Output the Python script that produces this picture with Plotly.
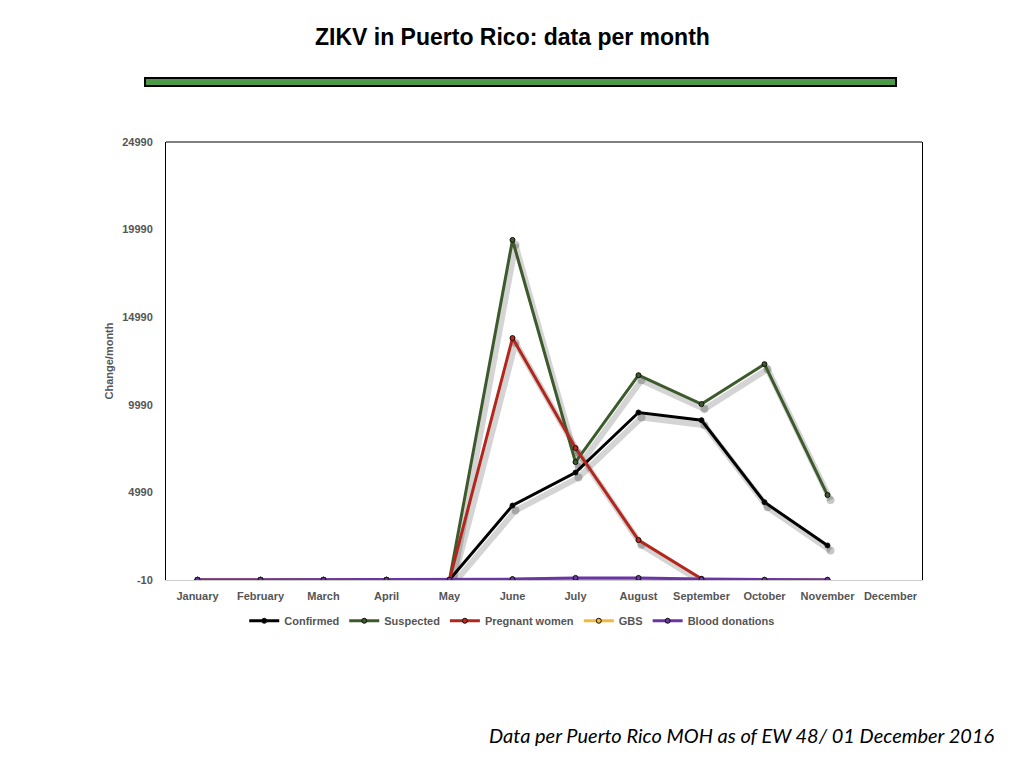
import plotly.graph_objects as go

# Monthly ZIKV figures for Puerto Rico.
months = ['January', 'February', 'March', 'April', 'May', 'June', 'July',
          'August', 'September', 'October', 'November', 'December']
confirmed = [0, 0, 0, 0, 0, 4240, 6120, 9550, 9110, 4430, 1960, None]
suspected = [0, 0, 0, 0, 0, 19400, 6720, 11680, 10030, 12310, 4840, None]
pregnant = [0, 0, 0, 0, 0, 13800, 7520, 2270, 60, None, None, None]
gbs = [0, 0, 0, 0, 0, 15, 25, 25, 10, 0, 0, None]
blood = [0, 0, 0, 0, 0, 40, 110, 110, 40, 0, 0, None]

y_ticks = [-10, 4990, 9990, 14990, 19990, 24990]

series = [
    ('Confirmed', confirmed, '#000000', '#000000'),
    ('Suspected', suspected, '#3d5a2c', '#3d5a2c'),
    ('Pregnant women', pregnant, '#b3261b', '#c0281c'),
    ('GBS', gbs, '#f4b83a', '#f4b83a'),
    ('Blood donations', blood, '#6b35a3', '#6b35a3'),
]

# pixel sizes of the plot area, used to offset the drop shadow
plot_w, plot_h = 756, 438
y_lo, y_hi = -10, 24990
units_per_px = (y_hi - y_lo) / plot_h
shadow_dx, shadow_dy = 3, 5
x_shift = shadow_dx * 12 / plot_w
y_shift = shadow_dy * units_per_px

fig = go.Figure()

# soft shadows underneath (main axes have a shifted range)
for name, vals, col, mcol in series:
    fig.add_trace(go.Scatter(
        x=months, y=vals, mode='lines+markers', xaxis='x', yaxis='y',
        line=dict(color='rgba(0,0,0,0.17)', width=6),
        marker=dict(size=8, color='rgba(0,0,0,0.22)'),
        showlegend=False, hoverinfo='skip', connectgaps=False,
    ))

# real lines on the overlay axes
for name, vals, col, mcol in series:
    fig.add_trace(go.Scatter(
        x=months, y=vals, name=name, mode='lines+markers',
        xaxis='x2', yaxis='y2',
        line=dict(color=col, width=3),
        marker=dict(size=5, color=mcol, line=dict(color='#111111', width=1)),
        connectgaps=False,
    ))

tick_font = dict(family='Liberation Sans', size=11, color='#555555',
                 weight='bold')

fig.update_layout(
    width=1024, height=768,
    paper_bgcolor='white', plot_bgcolor='white',
    # the page body adds 8px, so margins are pulled in by that much
    margin=dict(l=158, r=110, t=134, b=196),
    showlegend=True,
    legend=dict(orientation='h', x=0.458, xanchor='center', y=-0.06,
                yanchor='top', font=tick_font,
                itemwidth=30, tracegroupgap=0),
    xaxis=dict(range=[-0.5 - x_shift, 11.5 - x_shift], showticklabels=False,
               showgrid=False, zeroline=False, showline=False, ticks=''),
    yaxis=dict(range=[y_lo + y_shift, y_hi + y_shift], showticklabels=False,
               showgrid=False, zeroline=False, showline=False, ticks=''),
    xaxis2=dict(overlaying='x', side='bottom', range=[-0.5, 11.5],
                type='category', categoryorder='array', categoryarray=months,
                showgrid=False, zeroline=False,
                showline=True, linecolor='#cccccc', linewidth=1, mirror=False,
                ticks='', tickfont=tick_font, ticklabelstandoff=6),
    yaxis2=dict(overlaying='y', side='left', range=[y_lo, y_hi],
                tickvals=y_ticks, ticktext=[str(v) for v in y_ticks],
                showgrid=False, zeroline=False,
                showline=True, linecolor='black', linewidth=1, mirror=True,
                ticks='', tickfont=tick_font, ticklabelstandoff=10,
                title=dict(text='Change/month', standoff=6,
                           font=tick_font)),
    shapes=[
        # top border of the plot box
        dict(type='line', xref='paper', yref='paper', x0=0, x1=1, y0=1, y1=1,
             line=dict(color='black', width=1)),
        # green banner under the title
        dict(type='rect', xref='paper', yref='paper',
             x0=(145 - 166) / plot_w, x1=(896 - 166) / plot_w,
             y0=(580 - 86) / plot_h, y1=(580 - 78) / plot_h,
             fillcolor='#4c9a47', line=dict(color='black', width=2)),
    ],
    annotations=[
        dict(text='<b>ZIKV in Puerto Rico: data per month</b>',
             xref='paper', yref='paper', x=(512 - 166) / plot_w,
             y=(580 - 37) / plot_h, xanchor='center', yanchor='middle',
             showarrow=False,
             font=dict(family='Liberation Sans', size=23, color='black')),
        dict(text='<i>Data per Puerto Rico MOH as of EW 48/ 01 December 2016</i>',
             xref='paper', yref='paper', x=(997 - 166) / plot_w,
             y=(580 - 735) / plot_h, xanchor='right', yanchor='middle',
             showarrow=False,
             font=dict(family='Lato', size=20, color='black')),
    ],
)

fig.write_html('out.html')
